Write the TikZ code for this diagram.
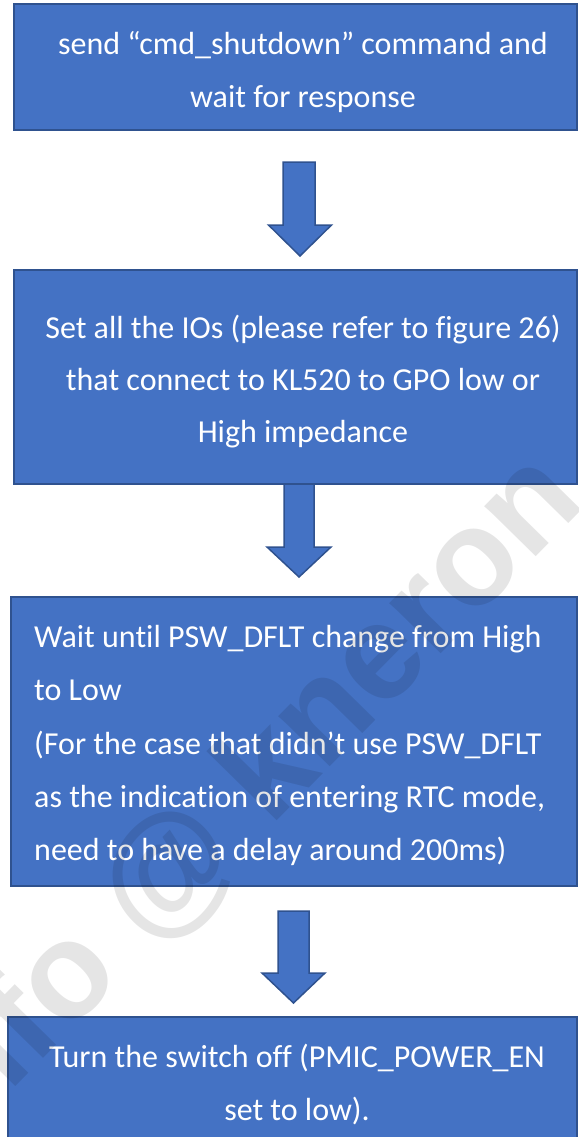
\documentclass[tikz,border=0pt]{standalone}
\usepackage{fontspec}
\setmainfont{Carlito}[Ligatures=NoCommon]
\newfontfamily\wmfont{Liberation Sans}
\definecolor{boxfill}{HTML}{4472C4}
\definecolor{boxline}{HTML}{2F528F}
\begin{document}
\begin{tikzpicture}[x=1pt,y=-1pt,
  stepbox/.style={draw=boxline, fill=boxfill, line width=2pt, inner sep=0pt, rectangle},
  blockarrow/.style={draw=boxline, fill=boxfill, line width=1.5pt, line join=miter},
  linetext/.style={text=white, font=\fontsize{32}{38}\selectfont, inner sep=0pt, anchor=base},
  leftline/.style={linetext, anchor=base west}]
\useasboundingbox (0,0) rectangle (578,1137);

% boxes
\node[stepbox, minimum width=563pt, minimum height=126pt] (b1) at (295.5,67) {};
\node[stepbox, minimum width=563pt, minimum height=214pt] (b2) at (295.5,377) {};
\node[stepbox, minimum width=566pt, minimum height=289pt] (b3) at (294,741.5) {};
\node[stepbox, minimum width=569pt, minimum height=126pt] (b4) at (292.5,1080) {};

% block arrows
\draw[blockarrow] (283,162) -- (315,162) -- (315,225) -- (331.5,225) -- (300,256) -- (268.5,225) -- (283,225) -- cycle;
\draw[blockarrow] (284,484) -- (314,484) -- (314,547) -- (331,547) -- (299,577) -- (267,547) -- (284,547) -- cycle;
\draw[blockarrow] (278,911) -- (309,911) -- (309,973) -- (325,973) -- (293.5,1003) -- (262,973) -- (278,973) -- cycle;

% texts
\node[linetext] (t11) at (303,55) {send “cmd\_shutdown” command and};
\node[linetext] (t12) at (303,108) {wait for response};

\node[linetext] (t21) at (303,338) {Set all the IOs (please refer to figure 26)};
\node[linetext] (t22) at (303,390) {that connect to KL520 to GPO low or};
\node[linetext] (t23) at (303,442) {High impedance};

\node[leftline] (t31) at (34,647) {Wait until PSW\_DFLT change from High};
\node[leftline] (t32) at (34,700) {to Low};
\node[leftline] (t33) at (34,754) {(For the case that didn’t use PSW\_DFLT};
\node[leftline] (t34) at (34,807) {as the indication of entering RTC mode,};
\node[leftline] (t35) at (34,860) {need to have a delay around 200ms)};

\node[linetext] (t41) at (297,1067) {Turn the switch off (PMIC\_POWER\_EN};
\node[linetext] (t42) at (297,1120) {set to low).};

% watermark
\node[font=\wmfont\bfseries\fontsize{136}{136}\selectfont, text=black, text opacity=0.1, rotate=45.5, inner sep=0pt] (wm) at (241.5,802) {Info @ kneron};
\end{tikzpicture}
\end{document}
